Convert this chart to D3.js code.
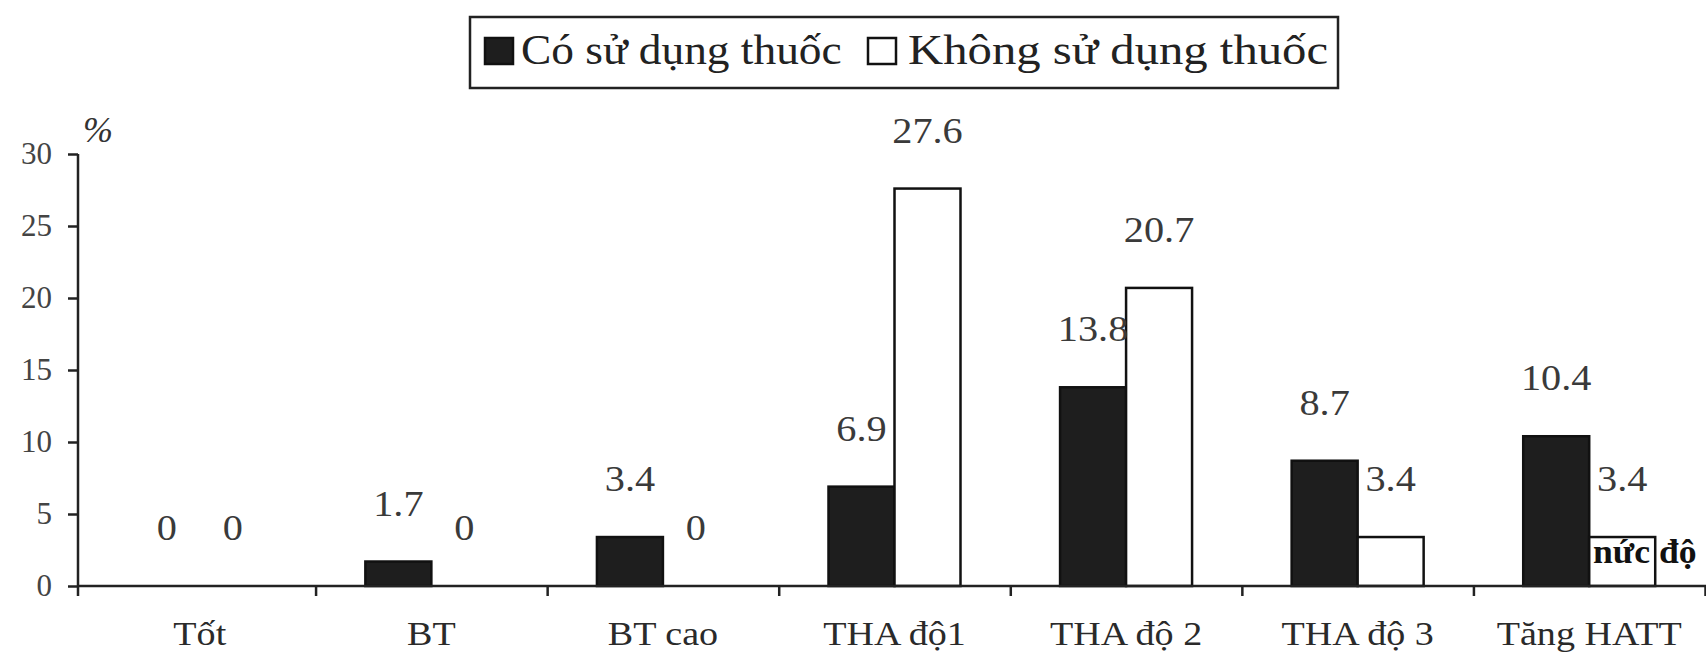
<!DOCTYPE html>
<html>
<head>
<meta charset="utf-8">
<script src="https://cdn.jsdelivr.net/npm/d3@7"></script>
<style>
  html, body { margin: 0; padding: 0; background: #fff; }
  svg { display: block; }
  svg text { font-family: "Liberation Serif", "Times New Roman", serif; }
</style>
</head>
<body>
<div id="chart"></div>
<script>
const categories = ['Tốt', 'BT', 'BT cao', 'THA độ1', 'THA độ 2', 'THA độ 3', 'Tăng HATT'];
const seriesNames = ['Có sử dụng thuốc', 'Không sử dụng thuốc'];
const coValues = [0, 1.7, 3.4, 6.9, 13.8, 8.7, 10.4];
const khongValues = [0, 0, 0, 27.6, 20.7, 3.4, 3.4];
const yTicks = [0, 5, 10, 15, 20, 25, 30];

const width = 1706;
const height = 662;
const axisX = 78;
const baseY = 586;
const stretch = 1.12;

function renderChart() {
    const svg = d3.select('#chart').append('svg')
        .attr('width', width)
        .attr('height', height);

    svg.append('rect').attr('width', width).attr('height', height).attr('fill', '#fff');

    const x0 = d3.scaleBand()
        .domain(categories)
        .range([84, 1705])
        .paddingInner(0.43)
        .paddingOuter(0.215);
    const x1 = d3.scaleBand()
        .domain(seriesNames)
        .range([0, x0.bandwidth()]);
    const y = d3.scaleLinear().domain([0, 30]).range([baseY, 154]);

    const rows = categories.map((c, i) => ({
        cat: c,
        vals: [
            { s: seriesNames[0], v: coValues[i] },
            { s: seriesNames[1], v: khongValues[i] }
        ]
    }));

    // bars
    const groups = svg.selectAll('g.bars')
        .data(rows)
        .enter().append('g')
        .attr('class', 'bars')
        .attr('transform', d => `translate(${x0(d.cat)},0)`);

    groups.selectAll('rect')
        .data(d => d.vals.filter(e => e.v > 0))
        .enter().append('rect')
        .attr('x', d => x1(d.s))
        .attr('y', d => y(d.v))
        .attr('width', x1.bandwidth())
        .attr('height', d => baseY - y(d.v))
        .attr('fill', d => d.s === seriesNames[0] ? '#1e1e1e' : '#fff')
        .attr('stroke', '#111')
        .attr('stroke-width', 2.5);

    // value labels
    groups.selectAll('text.val')
        .data(d => d.vals)
        .enter().append('text')
        .attr('class', 'val')
        .attr('transform', d => `translate(${x1(d.s) + x1.bandwidth() / 2},${y(d.v) - 46}) scale(${stretch},1)`)
        .attr('text-anchor', 'middle')
        .attr('font-size', 36)
        .attr('fill', '#3a3a3a')
        .text(d => d.v);

    // y axis
    const yAxis = svg.append('g')
        .attr('transform', `translate(${axisX},0)`)
        .call(d3.axisLeft(y).tickValues(yTicks).tickSize(10).tickPadding(16).tickSizeOuter(0));
    yAxis.select('.domain').attr('stroke', '#222').attr('stroke-width', 2.5)
        .attr('d', `M0,${y(30)}V${baseY + 10}`);
    yAxis.selectAll('.tick line').attr('stroke', '#222').attr('stroke-width', 2.5);
    yAxis.selectAll('.tick text')
        .attr('font-size', 31)
        .attr('font-family', '"Liberation Serif", "Times New Roman", serif')
        .attr('fill', '#444');

    svg.append('text')
        .attr('x', 83).attr('y', 142)
        .attr('font-size', 36)
        .attr('font-style', 'italic')
        .attr('fill', '#333')
        .text('%');

    // x axis with ticks at category boundaries
    const xb = d3.scaleLinear().domain([0, categories.length]).range([84, 1705]);
    const xAxis = svg.append('g')
        .attr('transform', `translate(0,${baseY})`)
        .call(d3.axisBottom(xb).tickValues(d3.range(1, categories.length + 1)).tickSize(10).tickFormat('').tickSizeOuter(0));
    xAxis.select('.domain').attr('stroke', '#222').attr('stroke-width', 2.5)
        .attr('d', `M${axisX},0H${width}`);
    xAxis.selectAll('.tick line').attr('stroke', '#222').attr('stroke-width', 2.5);

    svg.selectAll('text.catlabel')
        .data(categories)
        .enter().append('text')
        .attr('class', 'catlabel')
        .attr('transform', d => `translate(${x0(d) + x0.bandwidth() / 2},645) scale(${stretch},1)`)
        .attr('text-anchor', 'middle')
        .attr('font-size', 34)
        .attr('fill', '#2a2a2a')
        .text(d => d);

    // stray text over the last bar, kept inside the picture
    svg.append('text')
        .attr('transform', `translate(1593,563) scale(1.08,1)`)
        .attr('font-size', 33)
        .attr('font-weight', 'bold')
        .attr('fill', '#111')
        .text('nức độ');

    // legend
    const legend = svg.append('g');
    legend.append('rect')
        .attr('x', 470).attr('y', 17)
        .attr('width', 868).attr('height', 71)
        .attr('fill', '#fff')
        .attr('stroke', '#222')
        .attr('stroke-width', 2.5);

    const legendX = [485, 868];
    const legendScale = [1.08, 1.16];
    const items = legend.selectAll('g.item')
        .data(seriesNames)
        .enter().append('g')
        .attr('class', 'item')
        .attr('transform', (d, i) => `translate(${legendX[i]},0)`);
    items.append('rect')
        .attr('x', 0).attr('y', 38)
        .attr('width', 28).attr('height', 26)
        .attr('fill', (d, i) => i === 0 ? '#1e1e1e' : '#fff')
        .attr('stroke', '#111')
        .attr('stroke-width', 2.5);
    items.append('text')
        .attr('transform', (d, i) => `translate(${i === 0 ? 36 : 40},64) scale(${legendScale[i]},1)`)
        .attr('font-size', 42)
        .attr('fill', '#222')
        .text(d => d);
}

renderChart();
</script>
</body>
</html>
